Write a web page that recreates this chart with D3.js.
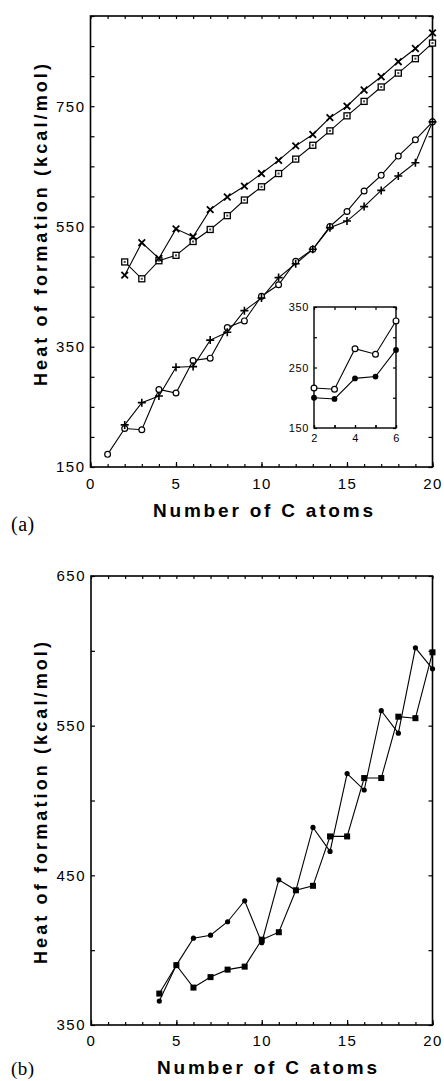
<!DOCTYPE html>
<html><head><meta charset="utf-8">
<script src="https://cdn.jsdelivr.net/npm/d3@7"></script>
<style>
body{margin:0;background:#fff}
svg{display:block}
text{font-family:"Liberation Sans",Arial,Helvetica,sans-serif;fill:#000}
</style>
</head><body>
<svg id="c" width="444" height="1081"></svg>
<script>
// ---------- DATA ----------
// Panel (a)
const atomsA1 = [1,2,3,4,5,6,7,8,9,10,11,12,13,14,15,16,17,18,19,20];
const atomsA2 = [2,3,4,5,6,7,8,9,10,11,12,13,14,15,16,17,18,19,20];
const upperCross  = [469,523,497,546,533,578,599,617,638,660,684,703,731,750,777,799,824,846,872];
const upperSquare = [491,463,493,502,525,545,568,594,616,638,662,685,709,734,758,782,805,829,855];
const lowerCircle = [171,214,212,279,273,327,331,382,393,434,453,492,512,550,575,609,635,667,694,724];
const lowerPlus   = [220,257,268,316,317,361,374,410,431,465,488,512,548,559,583,610,634,656,724];
// Inset of (a)
const insetAtoms  = [2,3,4,5,6];
const insetOpen   = [216,214,281,272,327];
const insetFilled = [200,198,232,235,279];
// Panel (b)
const atomsB = [4,5,6,7,8,9,10,11,12,13,14,15,16,17,18,19,20];
const bCircle = [366,390,408,410,419,433,405,447,440,482,466,518,507,560,545,602,588];
const bSquare = [371,390,375,382,387,389,407,412,440,443,476,476,515,515,556,555,599];
// Ticks
const aYTicks = [150,200,250,300,350,400,450,500,550,600,650,700,750,800,850,900];
const aYLabels = [150,350,550,750];
const bYTicks = [350,400,450,500,550,600,650];
const bYLabels = [350,450,550,650];
const xMinorTicks = [0,1,2,3,4,5,6,7,8,9,10,11,12,13,14,15,16,17,18,19,20];
const xMajorTicks = [0,5,10,15,20];
const insetYTicks = [150,200,250,300,350];
const insetYLabels = [150,250,350];
const insetXTicks = [2,3,4,5,6];
const insetXLabels = [2,4,6];

// ---------- DRAW ----------
const svg = d3.select("#c");
svg.append("rect").attr("width",444).attr("height",1081).attr("fill","#fff");

function styleAxis(s, fs, ls){
  s.select(".domain").remove();
  s.attr("font-family",null).attr("font-size",null);
  s.selectAll("line").attr("stroke","#000").attr("stroke-width",1.2);
  s.selectAll("text").style("font-size",fs+"px").style("letter-spacing",ls+"px");
}

function drawFrame(x, y, o){
  const g = svg.append("g");
  const [xl, xr] = x.range();
  const [yb, yt] = y.range();
  g.append("rect").attr("x",xl).attr("y",yt).attr("width",xr-xl).attr("height",yb-yt)
    .attr("fill", o.fill || "none").attr("stroke","#000").attr("stroke-width",o.frameW);
  g.append("g").attr("transform",`translate(${xl},0)`)
    .call(d3.axisLeft(y).tickValues(o.yTicks).tickSizeInner(-o.yt).tickSizeOuter(0).tickPadding(o.ypad)
      .tickFormat(d => o.yLabels.includes(d) ? d : ""))
    .call(s => styleAxis(s, o.fs, o.ls));
  g.append("g").attr("transform",`translate(${xr},0)`)
    .call(d3.axisRight(y).tickValues(o.yTicks).tickSizeInner(-o.yt).tickSizeOuter(0).tickFormat(""))
    .call(s => styleAxis(s, o.fs, o.ls));
  g.append("g").attr("transform",`translate(0,${yb})`)
    .call(d3.axisBottom(x).tickValues(o.xMinor).tickSizeInner(-o.xtMinor).tickSizeOuter(0).tickFormat(""))
    .call(s => styleAxis(s, o.fs, o.ls));
  g.append("g").attr("transform",`translate(0,${yb})`)
    .call(d3.axisBottom(x).tickValues(o.xMajor).tickSizeInner(-o.xtMajor).tickSizeOuter(0).tickPadding(o.xpad)
      .tickFormat(d => o.xLabels.includes(d) ? d : ""))
    .call(s => styleAxis(s, o.fs, o.ls));
  g.append("g").attr("transform",`translate(0,${yt})`)
    .call(d3.axisTop(x).tickValues(o.xMinor).tickSizeInner(-o.xtMinor).tickSizeOuter(0).tickFormat(""))
    .call(s => styleAxis(s, o.fs, o.ls));
  return g;
}

function drawLine(x, y, xs, ys, w){
  const pts = xs.map((d,i)=>[d, ys[i]]);
  svg.append("path").datum(pts)
    .attr("d", d3.line().x(d=>x(d[0])).y(d=>y(d[1])))
    .attr("fill","none").attr("stroke","#000").attr("stroke-width",w || 1.1);
}

function drawMarkers(x, y, xs, ys, type){
  const pts = xs.map((d,i)=>[d, ys[i]]);
  const g = svg.append("g");
  pts.forEach(p => {
    const cx = x(p[0]), cy = y(p[1]);
    if (type === "times") {
      const r = 3.3;
      g.append("path").attr("d",`M${cx-r},${cy-r}L${cx+r},${cy+r}M${cx-r},${cy+r}L${cx+r},${cy-r}`)
        .attr("stroke","#000").attr("stroke-width",1.8);
    } else if (type === "plus") {
      const r = 4;
      g.append("path").attr("d",`M${cx-r},${cy}L${cx+r},${cy}M${cx},${cy-r}L${cx},${cy+r}`)
        .attr("stroke","#000").attr("stroke-width",1.6);
    } else if (type === "squareOpen") {
      g.append("rect").attr("x",cx-3).attr("y",cy-3).attr("width",6).attr("height",6)
        .attr("fill","#fff").attr("stroke","#000").attr("stroke-width",1.3);
      g.append("rect").attr("x",cx-1).attr("y",cy-1).attr("width",2).attr("height",2).attr("fill","#444");
    } else if (type === "circleOpen") {
      g.append("circle").attr("cx",cx).attr("cy",cy).attr("r",2.9)
        .attr("fill","#fff").attr("stroke","#000").attr("stroke-width",1.2);
    } else if (type === "circleFilled") {
      g.append("circle").attr("cx",cx).attr("cy",cy).attr("r",2.9).attr("fill","#000");
    } else if (type === "dot") {
      g.append("circle").attr("cx",cx).attr("cy",cy).attr("r",2.6).attr("fill","#000");
    } else if (type === "squareFilled") {
      g.append("rect").attr("x",cx-3).attr("y",cy-3).attr("width",6).attr("height",6).attr("fill","#000");
    }
  });
}

// ----- Panel (a) -----
const xA = d3.scaleLinear().domain([0,20]).range([90.5,432.5]);
const yA = d3.scaleLinear().domain([150,900]).range([467,16]);
drawFrame(xA, yA, {yTicks:aYTicks, yLabels:aYLabels, yt:4, ypad:5, xMinor:xMinorTicks, xMajor:xMajorTicks,
  xLabels:xMajorTicks, xtMinor:3, xtMajor:5, xpad:11, fs:15, ls:1.5, frameW:1.6});

drawLine(xA, yA, atomsA2, upperCross);
drawLine(xA, yA, atomsA2, upperSquare);
drawLine(xA, yA, atomsA1, lowerCircle);
drawLine(xA, yA, atomsA2, lowerPlus);
drawMarkers(xA, yA, atomsA2, upperSquare, "squareOpen");
drawMarkers(xA, yA, atomsA2, upperCross, "times");
drawMarkers(xA, yA, atomsA1, lowerCircle, "circleOpen");
drawMarkers(xA, yA, atomsA2, lowerPlus, "plus");

// Inset
const xI = d3.scaleLinear().domain([2,6]).range([314,396]);
const yI = d3.scaleLinear().domain([150,350]).range([428,307]);
drawFrame(xI, yI, {yTicks:insetYTicks, yLabels:insetYLabels, yt:3, ypad:5, xMinor:insetXTicks, xMajor:insetXTicks,
  xLabels:insetXLabels, xtMinor:3, xtMajor:3, xpad:6, fs:11, ls:0.6, frameW:1.4, fill:"#fff"});
drawLine(xI, yI, insetAtoms, insetOpen);
drawLine(xI, yI, insetAtoms, insetFilled);
drawMarkers(xI, yI, insetAtoms, insetOpen, "circleOpen");
drawMarkers(xI, yI, insetAtoms, insetFilled, "circleFilled");

// ----- Panel (b) -----
const xB = d3.scaleLinear().domain([0,20]).range([91,432.5]);
const yB = d3.scaleLinear().domain([350,650]).range([1025,576]);
drawFrame(xB, yB, {yTicks:bYTicks, yLabels:bYLabels, yt:4, ypad:5, xMinor:xMinorTicks, xMajor:xMajorTicks,
  xLabels:xMajorTicks, xtMinor:3, xtMajor:5, xpad:10, fs:15, ls:1.5, frameW:1.6});
drawLine(xB, yB, atomsB, bCircle, 1.1);
drawLine(xB, yB, atomsB, bSquare, 1.1);
drawMarkers(xB, yB, atomsB, bSquare, "squareFilled");
drawMarkers(xB, yB, atomsB, bCircle, "dot");

// ----- Titles -----
function yTitle(cx, cy){
  svg.append("text").attr("transform",`translate(${cx},${cy}) rotate(-90)`)
    .attr("text-anchor","middle").attr("dominant-baseline","central")
    .attr("font-weight","bold").style("font-size","18px")
    .attr("textLength",322).attr("lengthAdjust","spacing")
    .text("Heat of formation (kcal/mol)");
}
function xTitle(cx, by){
  svg.append("text").attr("x",cx).attr("y",by).attr("text-anchor","middle")
    .attr("font-weight","bold").style("font-size","19px")
    .attr("textLength",220).attr("lengthAdjust","spacing")
    .text("Number of C atoms");
}
yTitle(41, 225);
yTitle(41, 803);
xTitle(263, 517);
xTitle(267, 1074);
svg.append("text").attr("x",11).attr("y",531).style("font-family",'"Liberation Serif","Times New Roman",serif')
  .style("font-size","20px").style("letter-spacing","0.5px").text("(a)");
svg.append("text").attr("x",11).attr("y",1075).style("font-family",'"Liberation Serif","Times New Roman",serif')
  .style("font-size","19px").style("letter-spacing","0.5px").text("(b)");
</script>
</body></html>
